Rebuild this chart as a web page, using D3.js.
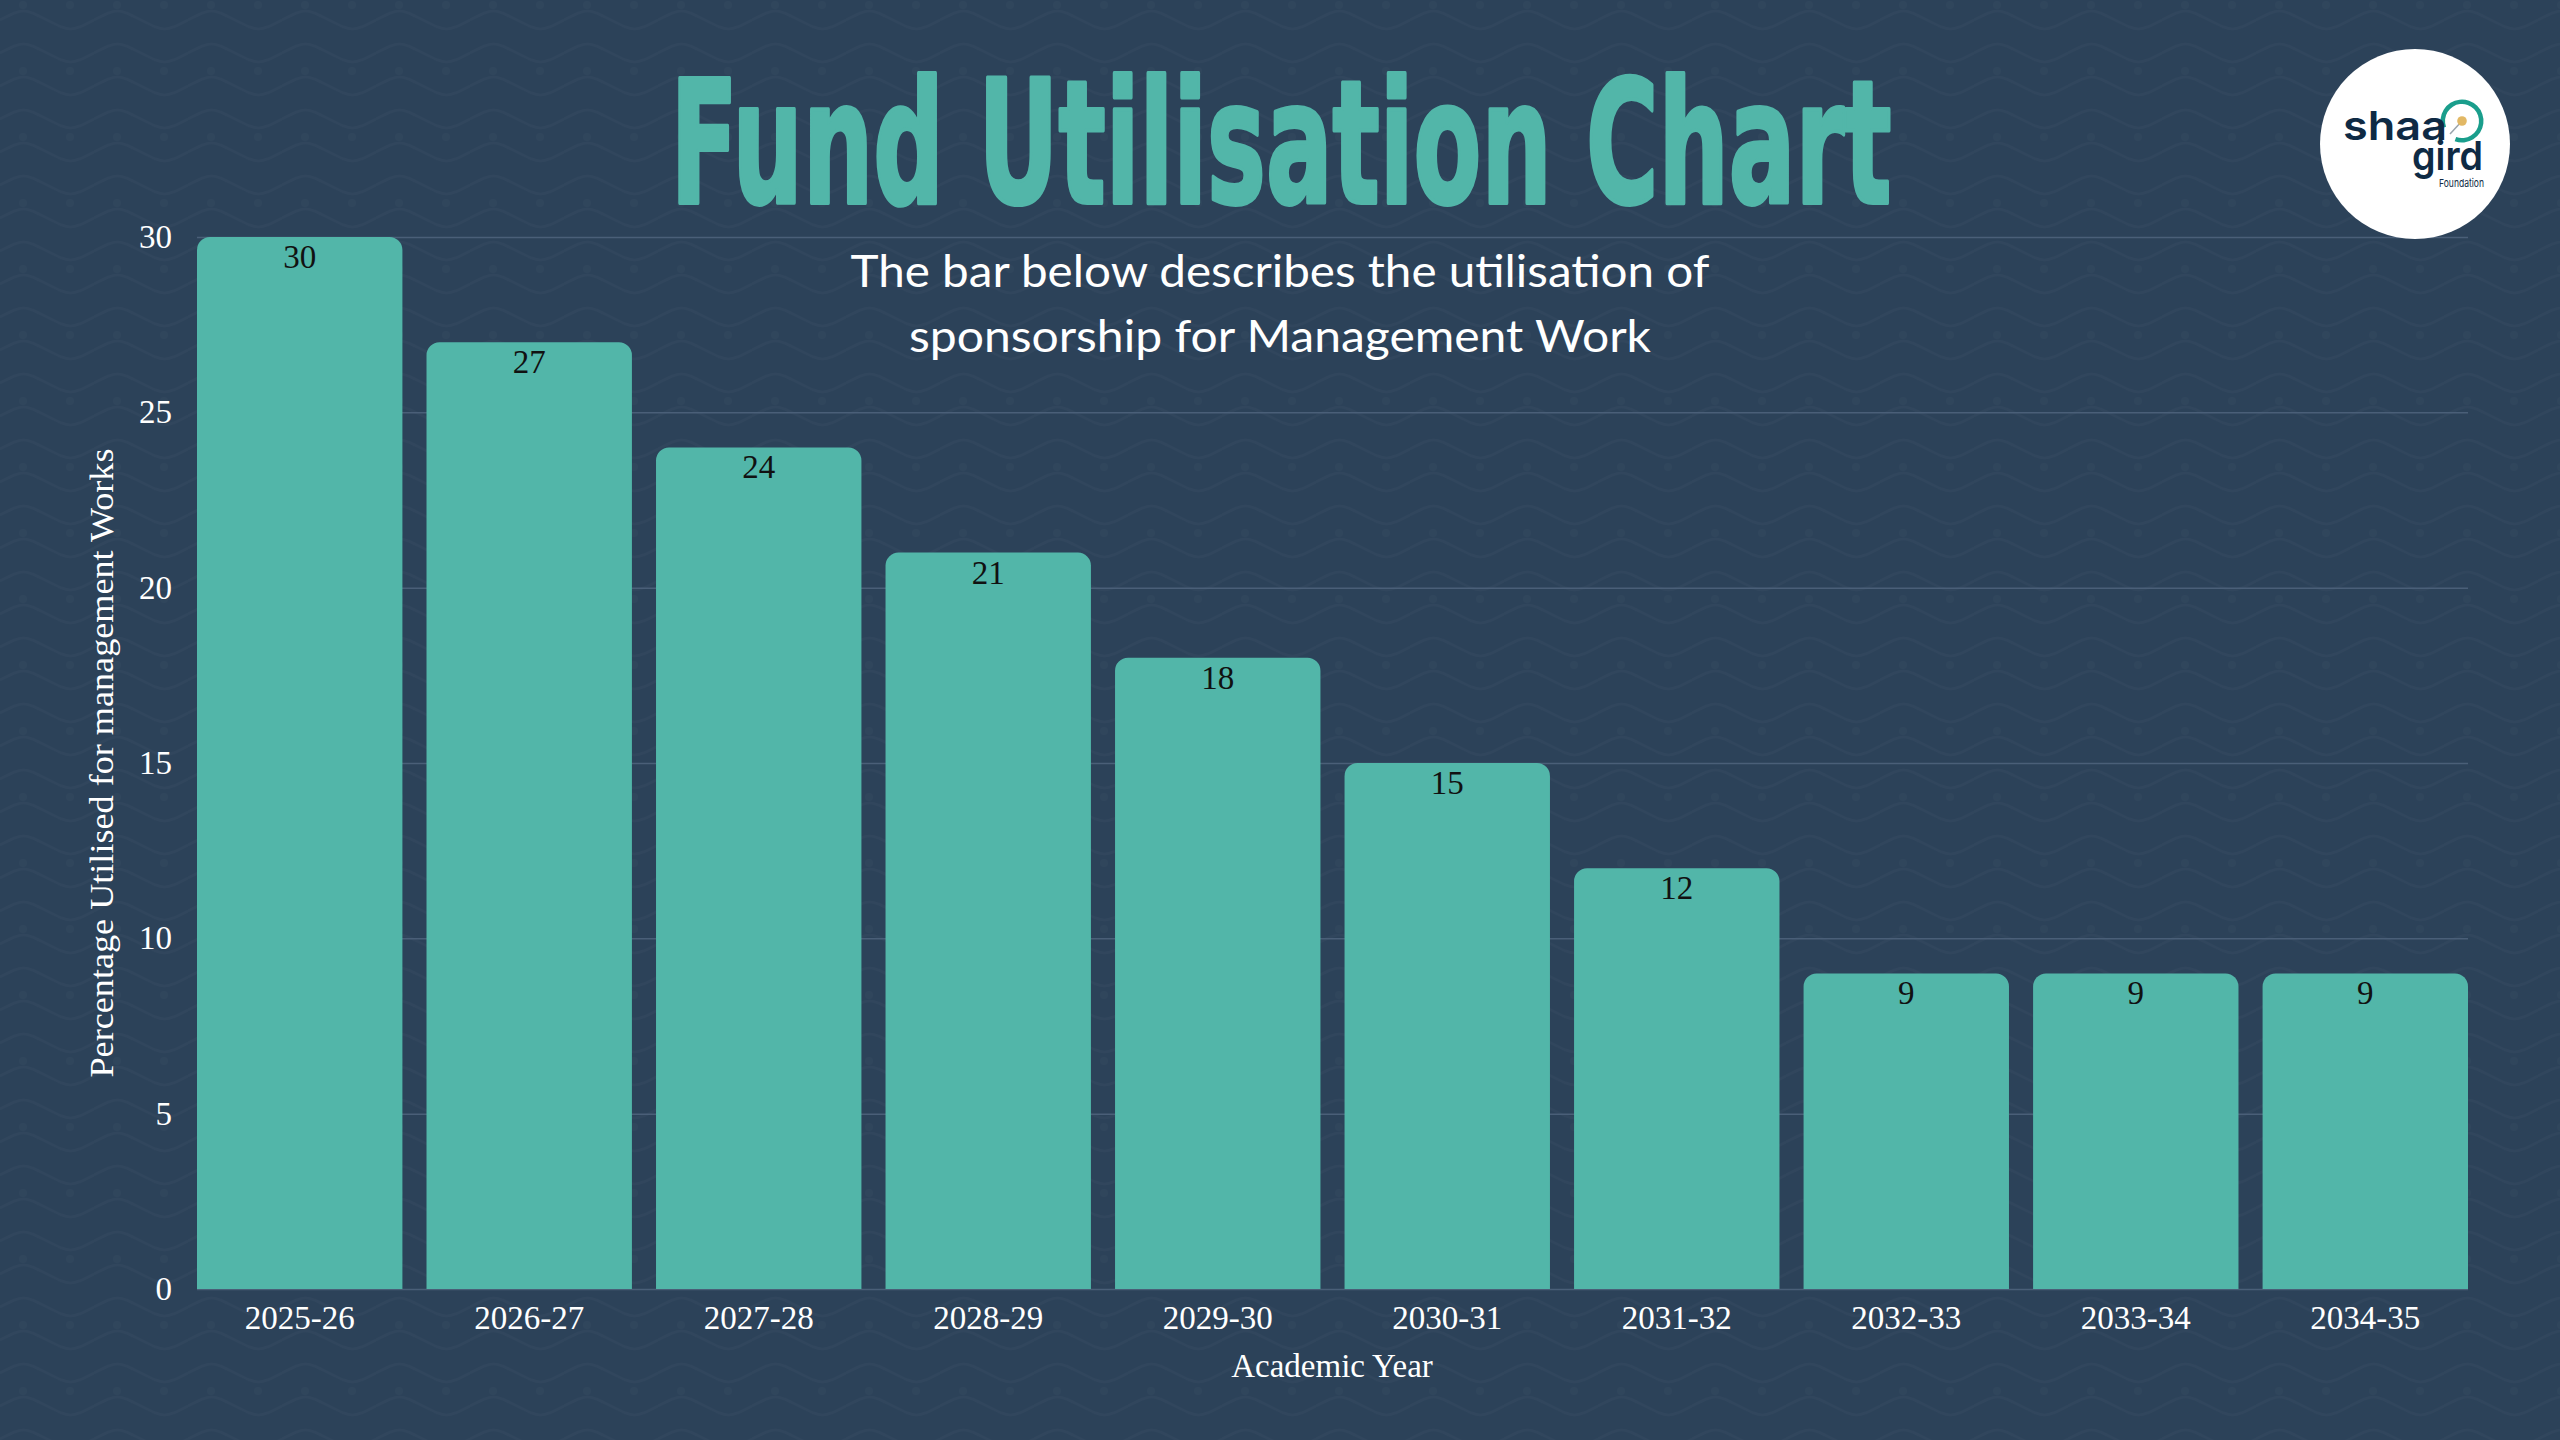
<!DOCTYPE html>
<html lang="en">
<head>
  <meta charset="UTF-8">
  <title>Fund Utilisation Chart</title>
  <script src="https://d3js.org/d3.v7.min.js"></script>
  <style>
    body, html { margin: 0; padding: 0; background: #2c4259; }
    svg { display: block; }
  </style>
</head>
<body>
  <svg width="2560" height="1440"></svg>
  <script>
    // data
    const years = ["2025-26", "2026-27", "2027-28", "2028-29", "2029-30",
                   "2030-31", "2031-32", "2032-33", "2033-34", "2034-35"];
    const values = [30, 27, 24, 21, 18, 15, 12, 9, 9, 9];
    const yTicks = [0, 5, 10, 15, 20, 25, 30];

    const svg = d3.select("svg"),
          width = +svg.attr("width"),
          height = +svg.attr("height");

    const serif = "'Liberation Serif', 'Times New Roman', serif";
    const teal = "#52b6a9";

    // background + faint wavy pattern
    const defs = svg.append("defs");
    const pat = defs.append("pattern")
      .attr("id", "waves")
      .attr("patternUnits", "userSpaceOnUse")
      .attr("width", 94).attr("height", 66);
    pat.append("path")
      .attr("d", "M0,20 C23.5,8 23.5,8 47,20 S70.5,32 94,20 M0,53 C23.5,41 23.5,41 47,53 S70.5,65 94,53")
      .attr("fill", "none")
      .attr("stroke", "rgba(255,255,255,0.022)")
      .attr("stroke-width", 2.5);
    pat.append("circle").attr("cx", 23).attr("cy", 5).attr("r", 4).attr("fill", "rgba(255,255,255,0.02)");
    pat.append("circle").attr("cx", 70).attr("cy", 5).attr("r", 4).attr("fill", "rgba(255,255,255,0.02)");

    svg.append("rect").attr("width", width).attr("height", height).attr("fill", "#2c4259");
    svg.append("rect").attr("width", width).attr("height", height).attr("fill", "url(#waves)");

    // scales
    const x = d3.scaleBand()
      .domain(years)
      .range([197, 2468])
      .paddingInner(0.105)
      .paddingOuter(0);

    const y = d3.scaleLinear()
      .domain([0, 30])
      .range([1289, 237]);

    // y axis with grid lines
    const yAxis = svg.append("g")
      .attr("transform", "translate(197,0)")
      .call(d3.axisLeft(y).tickValues(yTicks).tickSize(-(2468 - 197)).tickPadding(25));
    yAxis.select(".domain").remove();
    yAxis.selectAll(".tick line").attr("stroke", "#4a5f78").attr("stroke-width", 1.5);
    yAxis.selectAll(".tick text")
      .attr("fill", "#ffffff")
      .style("font-family", serif)
      .style("font-size", "33px");

    // bars with rounded tops
    const r = 13;
    const barPath = (x0, y0, w, h) =>
      `M${x0},${y0 + h}V${y0 + r}A${r},${r} 0 0 1 ${x0 + r},${y0}` +
      `H${x0 + w - r}A${r},${r} 0 0 1 ${x0 + w},${y0 + r}V${y0 + h}Z`;

    const bars = svg.append("g")
      .selectAll("g")
      .data(years.map((yr, i) => ({ year: yr, value: values[i] })))
      .enter().append("g");

    bars.append("path")
      .attr("d", d => barPath(x(d.year), y(d.value), x.bandwidth(), y(0) - y(d.value)))
      .attr("fill", teal);

    bars.append("text")
      .attr("x", d => x(d.year) + x.bandwidth() / 2)
      .attr("y", d => y(d.value) + 31)
      .attr("text-anchor", "middle")
      .attr("fill", "#111111")
      .style("font-family", serif)
      .style("font-size", "33px")
      .text(d => d.value);

    // x axis
    const xAxis = svg.append("g")
      .attr("transform", "translate(0,1289)")
      .call(d3.axisBottom(x).tickSize(0).tickPadding(17));
    xAxis.select(".domain").remove();
    xAxis.selectAll(".tick text")
      .attr("fill", "#ffffff")
      .style("font-family", serif)
      .style("font-size", "33px");

    // axis titles
    svg.append("text")
      .attr("x", 1332).attr("y", 1377)
      .attr("text-anchor", "middle")
      .attr("fill", "#ffffff")
      .style("font-family", serif)
      .style("font-size", "33px")
      .text("Academic Year");

    svg.append("text")
      .attr("transform", "translate(113,763) rotate(-90)")
      .attr("text-anchor", "middle")
      .attr("fill", "#ffffff")
      .attr("textLength", 629)
      .attr("lengthAdjust", "spacingAndGlyphs")
      .style("font-family", serif)
      .style("font-size", "33px")
      .text("Percentage Utilised for management Works");

    // title: condensed bold, squeezed horizontally to the reference width
    const title = svg.append("text")
      .attr("text-anchor", "middle")
      .attr("fill", teal)
      .attr("stroke", teal)
      .attr("stroke-width", 4)
      .attr("stroke-linejoin", "round")
      .style("font-family", "'DejaVu Sans Condensed', 'DejaVu Sans', sans-serif")
      .style("font-weight", "bold")
      .style("font-size", "172px")
      .text("Fund Utilisation Chart");
    const tw = title.node().getComputedTextLength();
    title.attr("transform", `translate(1281,203) scale(${1221 / tw},1)`);

    const subtitle = ["The bar below describes the utilisation of", "sponsorship for Management Work"];
    const subLen = [859, 742];
    svg.append("g").selectAll("text")
      .data(subtitle)
      .enter().append("text")
      .attr("x", 1280)
      .attr("y", (d, i) => 287 + i * 65)
      .attr("text-anchor", "middle")
      .attr("fill", "#ffffff")
      .attr("textLength", (d, i) => subLen[i])
      .attr("lengthAdjust", "spacingAndGlyphs")
      .style("font-family", "Lato, 'Open Sans', sans-serif")
      .style("font-size", "45px")
      .text(d => d);

    // logo badge
    const logo = svg.append("g");
    logo.append("circle").attr("cx", 2415).attr("cy", 144).attr("r", 95).attr("fill", "#ffffff");
    const ring = d3.arc().innerRadius(17).outerRadius(21.5)
      .startAngle(250 * Math.PI / 180).endAngle(560 * Math.PI / 180);
    logo.append("path")
      .attr("transform", "translate(2462,121)")
      .attr("d", ring())
      .attr("fill", "#1a9e8c");
    logo.append("line")
      .attr("x1", 2462).attr("y1", 121).attr("x2", 2450).attr("y2", 134)
      .attr("stroke", "#9aa4ad").attr("stroke-width", 1.5);
    logo.append("circle").attr("cx", 2462).attr("cy", 121).attr("r", 4.8).attr("fill", "#e2b865");
    logo.append("text")
      .attr("x", 2343).attr("y", 140)
      .attr("fill", "#0e2a44")
      .attr("textLength", 104).attr("lengthAdjust", "spacingAndGlyphs")
      .style("font-family", "Inter, 'Noto Sans', sans-serif")
      .style("font-weight", 600)
      .style("font-size", "40px")
      .text("shaa");
    logo.append("text")
      .attr("x", 2412).attr("y", 170)
      .attr("fill", "#0e2a44")
      .attr("textLength", 71).attr("lengthAdjust", "spacingAndGlyphs")
      .style("font-family", "Inter, 'Noto Sans', sans-serif")
      .style("font-weight", 600)
      .style("font-size", "40px")
      .text("gird");
    logo.append("text")
      .attr("x", 2439).attr("y", 187)
      .attr("fill", "#0e2a44")
      .attr("textLength", 45).attr("lengthAdjust", "spacingAndGlyphs")
      .style("font-family", "Inter, 'Noto Sans', sans-serif")
      .style("font-size", "11px")
      .text("Foundation");
  </script>
</body>
</html>
